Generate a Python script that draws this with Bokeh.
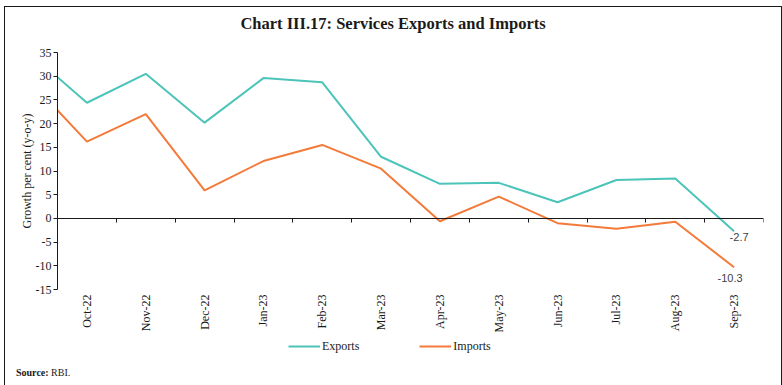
import math
from bokeh.plotting import figure
from bokeh.layouts import column
from bokeh.models import (FixedTicker, LinearAxis, Legend, LegendItem, Range1d, Div)
from bokeh.core.properties import value
from bokeh.embed import file_html
from bokeh.resources import INLINE

# ---- data ----
months = ["Sep-22", "Oct-22", "Nov-22", "Dec-22", "Jan-23", "Feb-23", "Mar-23",
          "Apr-23", "May-23", "Jun-23", "Jul-23", "Aug-23", "Sep-23"]
exports = [35.2, 24.4, 30.5, 20.2, 29.6, 28.7, 13.0, 7.3, 7.5, 3.4, 8.1, 8.4, -2.7]
imports = [29.4, 16.2, 22.0, 5.9, 12.1, 15.5, 10.5, -0.6, 4.6, -1.0, -2.2, -0.7, -10.3]
y_ticks = [-15, -10, -5, 0, 5, 10, 15, 20, 25, 30, 35]
visible_months = months[1:]
series_names = ["Exports", "Imports"]

title_text = "Chart III.17: Services Exports and Imports"
y_label = "Growth per cent (y-o-y)"

EXP_COLOR = "#4cc4b9"
IMP_COLOR = "#f47a3a"
SERIF = "Liberation Serif"
TXT = "#1a1a1a"

n = len(visible_months)
xs = [i - 0.5 for i in range(len(months))]          # Sep-22 sits just left of the frame
centers = [i + 0.5 for i in range(n)]
bounds = [float(i) for i in range(n + 1)]

title = Div(text=title_text, width=766, height=29,
            styles={"font-family": SERIF, "font-size": "16.5px", "font-weight": "bold",
                    "color": TXT, "text-align": "center", "width": "766px",
                    "padding-top": "2px", "line-height": "20px"})

p = figure(width=766, height=289, output_backend="svg", toolbar_location=None,
           x_range=Range1d(0, n), y_range=Range1d(y_ticks[0], y_ticks[-1]),
           min_border_left=52, min_border_right=8, min_border_top=6,
           min_border_bottom=41)
p.xgrid.visible = False
p.ygrid.visible = False
p.outline_line_color = None
p.background_fill_color = "white"
p.border_fill_color = "white"

p.line(xs, exports, line_color=EXP_COLOR, line_width=2)
p.line(xs, imports, line_color=IMP_COLOR, line_width=2)

# bottom category labels
xa = p.xaxis[0]
xa.ticker = FixedTicker(ticks=centers, minor_ticks=[])
xa.major_label_overrides = {c: m for c, m in zip(centers, visible_months)}
xa.major_label_orientation = math.pi / 2
xa.axis_line_color = None
xa.major_tick_line_color = None
xa.minor_tick_line_color = None
xa.major_tick_out = 0
xa.major_tick_in = 0
xa.major_label_standoff = 5
xa.major_label_text_font = SERIF
xa.major_label_text_font_size = "12px"
xa.major_label_text_color = TXT

# axis line at zero with boundary ticks
zax = LinearAxis(fixed_location=0, ticker=FixedTicker(ticks=bounds, minor_ticks=[]),
                 major_label_overrides={b: "" for b in bounds},
                 major_tick_in=0, major_tick_out=4,
                 axis_line_color=TXT, major_tick_line_color=TXT,
                 minor_tick_line_color=None)
p.add_layout(zax, "below")

ya = p.yaxis[0]
ya.ticker = FixedTicker(ticks=y_ticks, minor_ticks=[])
ya.major_label_overrides = {t: str(t) for t in y_ticks}
ya.major_tick_in = 0
ya.major_tick_out = 4
ya.minor_tick_line_color = None
ya.axis_line_color = TXT
ya.major_tick_line_color = TXT
ya.major_label_standoff = 2
ya.major_label_text_font = SERIF
ya.major_label_text_font_size = "12px"
ya.major_label_text_color = TXT
ya.axis_label = y_label
ya.axis_label_text_font = SERIF
ya.axis_label_text_font_size = "12px"
ya.axis_label_text_font_style = "normal"
ya.axis_label_text_color = TXT
ya.axis_label_standoff = -1

# end-point data labels
p.text(x=[xs[-1]], y=[exports[-1]], text=[f"{exports[-1]:.1f}"],
       text_align="center", text_baseline="top", x_offset=5, y_offset=2,
       text_font=value("Liberation Sans"), text_font_size="11px", text_color="#404040")
p.text(x=[xs[-1]], y=[imports[-1]], text=[f"{imports[-1]:.1f}"],
       text_align="center", text_baseline="top", x_offset=-4, y_offset=7,
       text_font=value("Liberation Sans"), text_font_size="11px", text_color="#404040")

# legend row (separate strip so it is not clipped by the chart frame)
lp = figure(width=766, height=26, output_backend="svg", toolbar_location=None,
            x_range=Range1d(0, n), y_range=Range1d(1000, 1001),
            x_axis_location=None, y_axis_location=None,
            min_border_left=0, min_border_right=0, min_border_top=0, min_border_bottom=0)
lp.xgrid.visible = False
lp.ygrid.visible = False
lp.outline_line_color = None
lp.background_fill_color = "white"
lp.border_fill_color = "white"
g1 = lp.line(xs, exports, line_color=EXP_COLOR, line_width=2)   # off-range: legend glyph only
g2 = lp.line(xs, imports, line_color=IMP_COLOR, line_width=2)
legend = Legend(items=[LegendItem(label=series_names[0], renderers=[g1]),
                       LegendItem(label=series_names[1], renderers=[g2])],
                orientation="horizontal", location=(231, 7),
                border_line_color=None, background_fill_alpha=0, margin=0,
                padding=0, spacing=60, glyph_width=32, glyph_height=16,
                label_standoff=2, label_text_font=SERIF, label_text_font_size="12px",
                label_text_color=TXT)
lp.add_layout(legend)

source = Div(text="<b>Source:</b> RBI.", width=300, height=19,
             styles={"font-family": SERIF, "font-size": "10px", "color": TXT,
                     "padding-left": "6px", "padding-top": "1px",
                     "line-height": "11px", "box-sizing": "border-box"})

layout = column(title, p, lp, source, spacing=0,
                styles={"margin-left": "4px", "margin-top": "6px",
                        "border": "1.5px solid #1a1a1a", "background": "white"})

open("out.html", "w").write(file_html(layout, INLINE))
